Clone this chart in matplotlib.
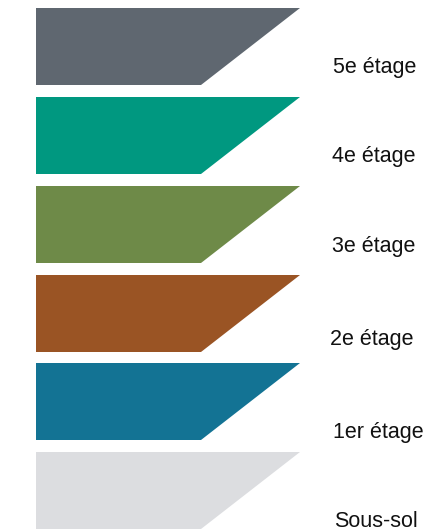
import matplotlib
matplotlib.use("Agg")
import matplotlib.pyplot as plt
from matplotlib.patches import Polygon

# Data
floors = ["5e étage", "4e étage", "3e étage", "2e étage", "1er étage", "Sous-sol"]
colors = ["#5f6770", "#009880", "#6e8a48", "#9a5424", "#137394", "#dcdde0"]

# Layout (pixel coordinates, y downward)
W, H = 425, 531
tops = [8, 97, 186, 275, 363, 452]
band_h = 77
x_left, x_top_right, x_bot_right = 36, 300, 201
label_x = [333, 332, 332, 330, 333, 334]
label_base = [73, 162, 252, 345, 438, 527]

fig = plt.figure(figsize=(W / 100, H / 100), dpi=100)
ax = fig.add_axes([0, 0, 1, 1])
ax.set_xlim(0, W)
ax.set_ylim(H, 0)
ax.axis("off")

for name, col, top, lx, lb in zip(floors, colors, tops, label_x, label_base):
    bot = top + band_h
    poly = Polygon([(x_left, top), (x_top_right, top), (x_bot_right, bot), (x_left, bot)],
                   closed=True, facecolor=col, edgecolor="none")
    ax.add_patch(poly)
    ax.text(lx, lb, name, ha="left", va="baseline", fontsize=15.5,
            family=["Liberation Sans", "DejaVu Sans"], color="#111111")

fig.savefig("out.png", dpi=100, facecolor="white")
